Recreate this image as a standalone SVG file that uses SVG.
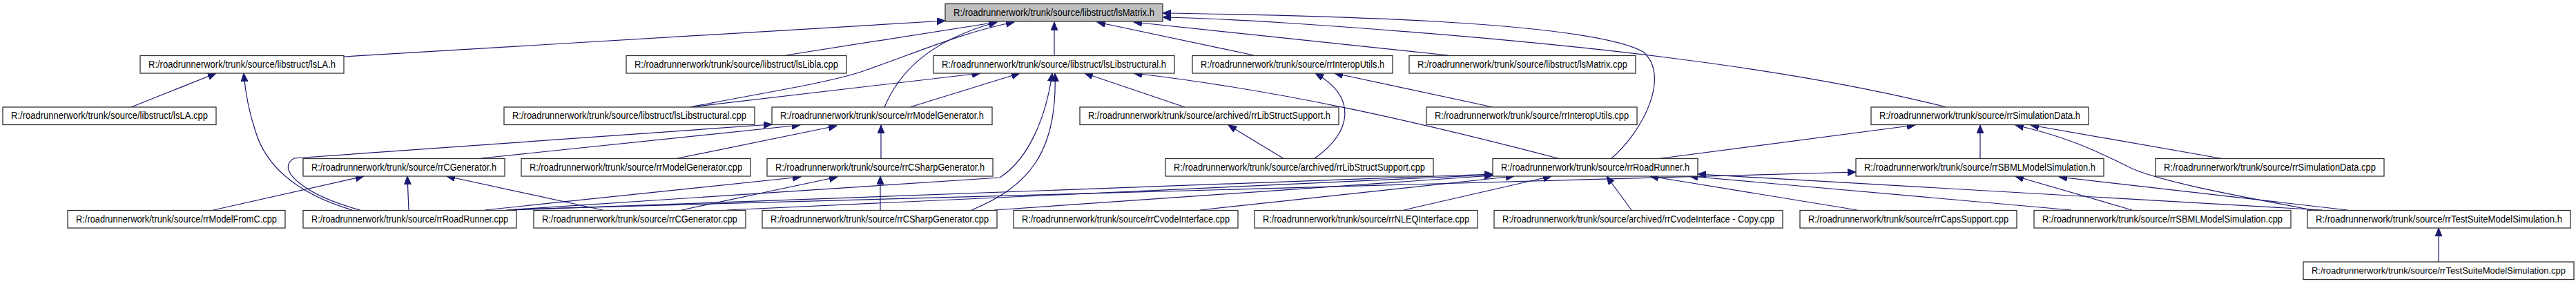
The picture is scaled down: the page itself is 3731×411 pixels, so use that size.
<svg xmlns="http://www.w3.org/2000/svg" width="3731" height="411" viewBox="0 0 3731 411">
<style>
.n rect{fill:#ffffff;stroke:#333333;stroke-width:1.3}
.n.main rect{fill:#bfbfbf}
.n text{font-family:"Liberation Sans",Arial,sans-serif;font-size:14px;fill:#000000;text-anchor:middle}
.n text.sm{font-size:13px}
#edges path{fill:none;stroke:#191970;stroke-width:1.2;marker-end:url(#ah)}
</style>
<defs>
<marker id="ah" markerUnits="userSpaceOnUse" markerWidth="13" markerHeight="11" refX="12" refY="5" orient="auto">
<path d="M0,0 L12,5 L0,10 z" fill="#191970" stroke="#191970" stroke-width="1"/>
</marker>
</defs>
<rect width="3731" height="411" fill="#ffffff"/>
<g id="edges">
<path d="M498,82 L1369,30"/>
<path d="M1138,80 L1444,32"/>
<path d="M1000,155 C1100,135 1200,120 1250,103 C1330,75 1400,45 1469,32"/>
<path d="M1281,155 C1300,110 1340,60 1444,32"/>
<path d="M1527,80 L1527,32"/>
<path d="M1816,80 L1589,32"/>
<path d="M2097,80 L1642,32"/>
<path d="M2819,155 C2600,100 2300,62 1860,33 C1780,28 1730,26 1684,25"/>
<path d="M2333,230 C2380,190 2420,110 2380,75 C2300,30 1900,22 1684,19"/>
<path d="M190,155 L313,106"/>
<path d="M510,304 C430,280 385,240 370,190 C360,160 355,130 353,106"/>
<path d="M522,304 C440,282 398,245 426,229 L1118,180"/>
<path d="M697,229 L1159,181"/>
<path d="M977,230 L1212,182"/>
<path d="M1276,230 L1276,181"/>
<path d="M1000,155 L1420,106"/>
<path d="M1318,155 L1477,106"/>
<path d="M733,304 L1448,257 C1490,230 1515,170 1524,106"/>
<path d="M1407,304 C1490,270 1532,220 1528,106"/>
<path d="M1716,155 L1571,106"/>
<path d="M2260,230 C2050,175 1850,130 1642,106"/>
<path d="M1903,230 C1960,190 1965,140 1905,106"/>
<path d="M2162,155 L1933,106"/>
<path d="M1860,230 L1779,181"/>
<path d="M309,304 L527,255"/>
<path d="M592,304 L590,255"/>
<path d="M873,304 L647,255"/>
<path d="M702,304 L1160,256"/>
<path d="M987,304 L1213,256"/>
<path d="M1275,304 L1275,255"/>
<path d="M740,304 L2162,252"/>
<path d="M1053,304 L2162,253"/>
<path d="M1440,304 L2162,254"/>
<path d="M1738,304 L2193,255"/>
<path d="M2033,304 L2247,255"/>
<path d="M2363,304 L2327,255"/>
<path d="M2690,304 L2390,255"/>
<path d="M3000,304 L2447,255"/>
<path d="M3363,304 L2459,252"/>
<path d="M745,303 L2688,249"/>
<path d="M3088,304 L2919,255"/>
<path d="M3400,304 L2982,256"/>
<path d="M2399,230 L2774,181"/>
<path d="M2868,230 L2868,181"/>
<path d="M3350,304 C3250,285 3120,262 3080,240 C3020,210 2980,195 2919,181"/>
<path d="M3221,230 L2941,181"/>
<path d="M3532,379 L3532,330"/>
</g>
<g id="n0" class="n main"><rect x="1369" y="5.5" width="315" height="25.5"/><text x="1526.5" y="22.5" textLength="291" lengthAdjust="spacingAndGlyphs">R:/roadrunnerwork/trunk/source/libstruct/lsMatrix.h</text></g>
<g id="n1" class="n"><rect x="203" y="80.5" width="295" height="25.5"/><text x="350.5" y="97.5" textLength="271" lengthAdjust="spacingAndGlyphs">R:/roadrunnerwork/trunk/source/libstruct/lsLA.h</text></g>
<g id="n2" class="n"><rect x="907" y="80.5" width="319" height="25.5"/><text x="1066.5" y="97.5" textLength="295" lengthAdjust="spacingAndGlyphs">R:/roadrunnerwork/trunk/source/libstruct/lsLibla.cpp</text></g>
<g id="n3" class="n"><rect x="1352" y="80.5" width="349" height="25.5"/><text x="1526.5" y="97.5" textLength="325" lengthAdjust="spacingAndGlyphs">R:/roadrunnerwork/trunk/source/libstruct/lsLibstructural.h</text></g>
<g id="n4" class="n"><rect x="1727" y="80.5" width="290" height="25.5"/><text x="1872" y="97.5" textLength="266" lengthAdjust="spacingAndGlyphs">R:/roadrunnerwork/trunk/source/rrInteropUtils.h</text></g>
<g id="n5" class="n"><rect x="2041" y="80.5" width="328" height="25.5"/><text x="2205" y="97.5" textLength="304" lengthAdjust="spacingAndGlyphs">R:/roadrunnerwork/trunk/source/libstruct/lsMatrix.cpp</text></g>
<g id="n6" class="n"><rect x="4" y="155" width="309" height="25.5"/><text x="158.5" y="172" textLength="285" lengthAdjust="spacingAndGlyphs">R:/roadrunnerwork/trunk/source/libstruct/lsLA.cpp</text></g>
<g id="n7" class="n"><rect x="730" y="155" width="363" height="25.5"/><text x="911.5" y="172" textLength="339" lengthAdjust="spacingAndGlyphs">R:/roadrunnerwork/trunk/source/libstruct/lsLibstructural.cpp</text></g>
<g id="n8" class="n"><rect x="1118" y="155" width="319" height="25.5"/><text x="1277.5" y="172" textLength="295" lengthAdjust="spacingAndGlyphs">R:/roadrunnerwork/trunk/source/rrModelGenerator.h</text></g>
<g id="n9" class="n"><rect x="1564" y="155" width="375" height="25.5"/><text x="1751.5" y="172" textLength="351" lengthAdjust="spacingAndGlyphs">R:/roadrunnerwork/trunk/source/archived/rrLibStructSupport.h</text></g>
<g id="n10" class="n"><rect x="2066" y="155" width="305" height="25.5"/><text x="2218.5" y="172" textLength="281" lengthAdjust="spacingAndGlyphs">R:/roadrunnerwork/trunk/source/rrInteropUtils.cpp</text></g>
<g id="n11" class="n"><rect x="2710" y="155" width="315" height="25.5"/><text x="2867.5" y="172" textLength="291" lengthAdjust="spacingAndGlyphs">R:/roadrunnerwork/trunk/source/rrSimulationData.h</text></g>
<g id="n12" class="n"><rect x="439" y="229.5" width="292" height="25.5"/><text x="585" y="246.5" textLength="268" lengthAdjust="spacingAndGlyphs">R:/roadrunnerwork/trunk/source/rrCGenerator.h</text></g>
<g id="n13" class="n"><rect x="755" y="229.5" width="332" height="25.5"/><text x="921" y="246.5" textLength="308" lengthAdjust="spacingAndGlyphs">R:/roadrunnerwork/trunk/source/rrModelGenerator.cpp</text></g>
<g id="n14" class="n"><rect x="1111" y="229.5" width="327" height="25.5"/><text x="1274.5" y="246.5" textLength="303" lengthAdjust="spacingAndGlyphs">R:/roadrunnerwork/trunk/source/rrCSharpGenerator.h</text></g>
<g id="n15" class="n"><rect x="1688" y="229.5" width="388" height="25.5"/><text x="1882" y="246.5" textLength="364" lengthAdjust="spacingAndGlyphs">R:/roadrunnerwork/trunk/source/archived/rrLibStructSupport.cpp</text></g>
<g id="n16" class="n"><rect x="2162" y="229.5" width="297" height="25.5"/><text x="2310.5" y="246.5" textLength="273" lengthAdjust="spacingAndGlyphs">R:/roadrunnerwork/trunk/source/rrRoadRunner.h</text></g>
<g id="n17" class="n"><rect x="2688" y="229.5" width="359" height="25.5"/><text x="2867.5" y="246.5" textLength="335" lengthAdjust="spacingAndGlyphs">R:/roadrunnerwork/trunk/source/rrSBMLModelSimulation.h</text></g>
<g id="n18" class="n"><rect x="3122" y="229.5" width="331" height="25.5"/><text x="3287.5" y="246.5" textLength="307" lengthAdjust="spacingAndGlyphs">R:/roadrunnerwork/trunk/source/rrSimulationData.cpp</text></g>
<g id="n19" class="n"><rect x="98" y="304.5" width="315" height="25.5"/><text x="255.5" y="321.5" textLength="291" lengthAdjust="spacingAndGlyphs">R:/roadrunnerwork/trunk/source/rrModelFromC.cpp</text></g>
<g id="n20" class="n"><rect x="439" y="304.5" width="309" height="25.5"/><text x="593.5" y="321.5" textLength="285" lengthAdjust="spacingAndGlyphs">R:/roadrunnerwork/trunk/source/rrRoadRunner.cpp</text></g>
<g id="n21" class="n"><rect x="773" y="304.5" width="307" height="25.5"/><text x="926.5" y="321.5" textLength="283" lengthAdjust="spacingAndGlyphs">R:/roadrunnerwork/trunk/source/rrCGenerator.cpp</text></g>
<g id="n22" class="n"><rect x="1104" y="304.5" width="340" height="25.5"/><text x="1274" y="321.5" textLength="316" lengthAdjust="spacingAndGlyphs">R:/roadrunnerwork/trunk/source/rrCSharpGenerator.cpp</text></g>
<g id="n23" class="n"><rect x="1468" y="304.5" width="325" height="25.5"/><text x="1630.5" y="321.5" textLength="301" lengthAdjust="spacingAndGlyphs">R:/roadrunnerwork/trunk/source/rrCvodeInterface.cpp</text></g>
<g id="n24" class="n"><rect x="1817" y="304.5" width="323" height="25.5"/><text x="1978.5" y="321.5" textLength="299" lengthAdjust="spacingAndGlyphs">R:/roadrunnerwork/trunk/source/rrNLEQInterface.cpp</text></g>
<g id="n25" class="n"><rect x="2164" y="304.5" width="418" height="25.5"/><text x="2373" y="321.5" textLength="394" lengthAdjust="spacingAndGlyphs">R:/roadrunnerwork/trunk/source/archived/rrCvodeInterface - Copy.cpp</text></g>
<g id="n26" class="n"><rect x="2607" y="304.5" width="314" height="25.5"/><text x="2764" y="321.5" textLength="290" lengthAdjust="spacingAndGlyphs">R:/roadrunnerwork/trunk/source/rrCapsSupport.cpp</text></g>
<g id="n27" class="n"><rect x="2946" y="304.5" width="372" height="25.5"/><text x="3132" y="321.5" textLength="348" lengthAdjust="spacingAndGlyphs">R:/roadrunnerwork/trunk/source/rrSBMLModelSimulation.cpp</text></g>
<g id="n28" class="n"><rect x="3342" y="304.5" width="381" height="25.5"/><text x="3532.5" y="321.5" textLength="357" lengthAdjust="spacingAndGlyphs">R:/roadrunnerwork/trunk/source/rrTestSuiteModelSimulation.h</text></g>
<g id="n29" class="n"><rect x="3336" y="379" width="392" height="25.5"/><text class="sm" x="3532" y="396" textLength="368" lengthAdjust="spacingAndGlyphs">R:/roadrunnerwork/trunk/source/rrTestSuiteModelSimulation.cpp</text></g>
</svg>
